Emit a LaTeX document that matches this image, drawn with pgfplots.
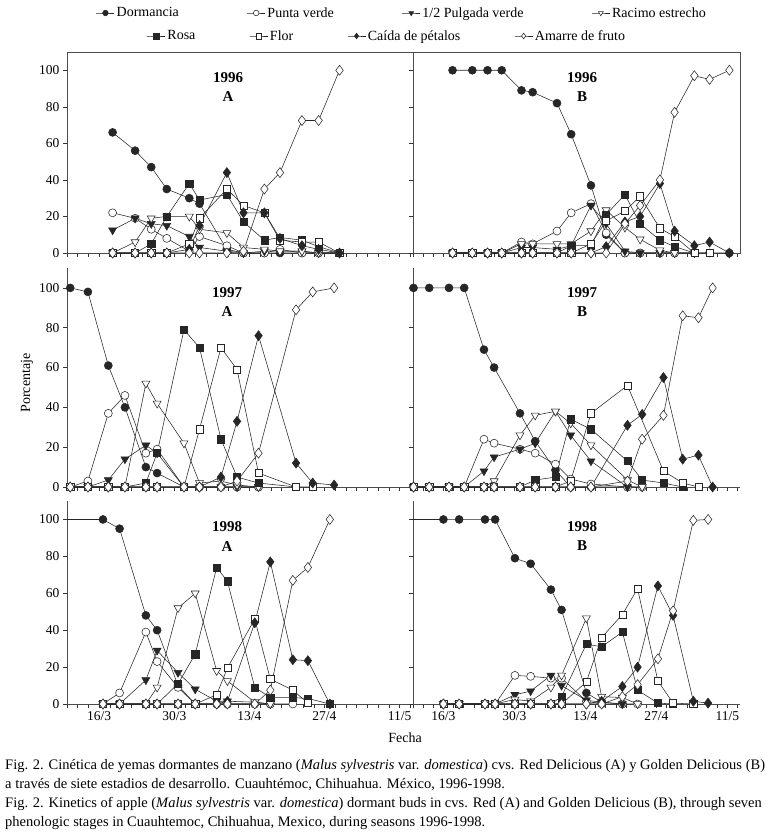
\documentclass[border=0pt]{standalone}
\usepackage{fontspec}
\setmainfont{Liberation Serif}
\usepackage{pgfplots}
\pgfplotsset{compat=1.18}

\pgfplotsset{
  pl/.style={black!85, line width=0.55pt, mark size=4pt},
  dorm/.style={pl, mark=*, mark options={solid, fill=black!85}},
  punta/.style={pl, mark=*, mark options={solid, fill=white}},
  pulg/.style={pl, mark=triangle*, mark size=4.6pt, mark options={solid, rotate=180, fill=black!85}},
  racimo/.style={pl, mark=triangle*, mark size=4.6pt, mark options={solid, rotate=180, fill=white}},
  rosa/.style={pl, mark=square*, mark size=3.6pt, mark options={solid, fill=black!85}},
  flor/.style={pl, mark=square*, mark size=3.6pt, mark options={solid, fill=white}},
  caida/.style={pl, mark=diamond*, mark size=5pt, mark options={solid, fill=black!85}},
  amarre/.style={pl, mark=diamond*, mark size=5pt, mark options={solid, fill=white}},
  panel/.style={
    scale only axis, anchor=south west,
    xmin=9, xmax=73.5, ymin=0, ymax=110,
    xtick={15,29,43,57,71}, minor xtick={9,11,...,73},
    ytick={0,20,...,100}, xticklabels={},
    tick align=outside, major tick length=4pt, minor tick length=4pt,
    tick style={black!80, line width=0.5pt},
    axis line style={black!70, line width=0.6pt},
    tick label style={font=\fontsize{13.5}{15}\selectfont},
    /pgf/number format/assume math mode=true,
  },
  toprow/.style={panel, xtick pos=left, ytick pos=left},
  lowrow/.style={panel, axis x line*=bottom, axis y line*=left},
  leftcol/.style={width=346pt},
  rightcol/.style={width=327pt, yticklabels={}},
  lastrow/.style={xticklabels={16/3,30/3,13/4,27/4,11/5}},
  leg/.style={hide axis, scale only axis, width=10pt, height=10pt, anchor=center,
    xmin=0, xmax=1, ymin=0, ymax=1, legend columns=4,
    legend image code/.code={\draw[mark repeat=2,mark phase=2,##1,mark size=2.8pt] plot coordinates {(0pt,0pt) (9pt,0pt) (18pt,0pt)};},
    legend style={draw=none, fill=none, at={(0.5,0.5)}, anchor=center,
      font=\fontsize{14}{16}\selectfont}},
}

\begin{document}
\begin{tikzpicture}
\path[use as bounding box] (0,0) rectangle (770pt,-832pt);

% legend, row 1 and row 2
\begin{axis}[leg, at={(402pt,-13pt)},
    legend style={/tikz/every even column/.append style={column sep=66pt}}]
  \addlegendimage{dorm}\addlegendentry{Dormancia}
  \addlegendimage{punta}\addlegendentry{Punta verde}
  \addlegendimage{pulg}\addlegendentry{1/2 Pulgada verde}
  \addlegendimage{racimo}\addlegendentry{Racimo estrecho}
\end{axis}
\begin{axis}[leg, at={(387pt,-36pt)},
    legend style={/tikz/every even column/.append style={column sep=52pt}}]
  \addlegendimage{rosa}\addlegendentry{Rosa}
  \addlegendimage{flor}\addlegendentry{Flor}
  \addlegendimage{caida}\addlegendentry{Caída de pétalos}
  \addlegendimage{amarre}\addlegendentry{Amarre de fruto}
\end{axis}

% 1996 A
\begin{axis}[toprow, leftcol, at={(67pt,-253pt)}, height=201pt]
  \addplot[dorm] coordinates {(17.5,66)(21.7,56)(24.7,47)(27.6,35)(31.8,30)(33.7,27)(38.8,2)(41.9,0)(45.8,0)(48.7,0)(52.8,0)(55.9,0)(59.8,0)};
  \addplot[punta] coordinates {(17.5,22)(21.7,19)(24.7,13)(27.6,8)(31.8,1)(33.7,9)(38.8,4)(41.9,0)(45.8,0)(48.7,2)(52.8,0)(55.9,0)(59.8,0)};
  \addplot[pulg] coordinates {(17.5,12.5)(21.7,19)(24.7,16)(27.6,15)(31.8,9)(33.7,3)(38.8,1)(41.9,0)(45.8,1)(48.7,1)(52.8,1)(55.9,0)(59.8,0)};
  \addplot[racimo] coordinates {(17.5,0)(21.7,6)(24.7,19)(27.6,20)(31.8,20)(33.7,13)(38.8,11)(41.9,3)(45.8,2)(48.7,1)(52.8,1)(55.9,0)(59.8,0)};
  \addplot[rosa] coordinates {(17.5,0)(21.7,0)(24.7,5)(27.6,20)(31.8,38)(33.7,29)(38.8,32)(41.9,17)(45.8,7)(48.7,8.5)(52.8,7)(55.9,3.5)(59.8,0)};
  \addplot[flor] coordinates {(17.5,0)(21.7,0)(24.7,0)(27.6,0)(31.8,5)(33.7,19)(38.8,35)(41.9,26)(45.8,22)(48.7,7)(52.8,6)(55.9,6)(59.8,0)};
  \addplot[caida] coordinates {(17.5,0)(21.7,0)(24.7,0)(27.6,0)(31.8,2)(33.7,15)(38.8,44)(41.9,22)(45.8,22)(48.7,8)(52.8,4)(55.9,2)(59.8,0)};
  \addplot[amarre] coordinates {(17.5,0)(21.7,0)(24.7,0)(27.6,0)(31.8,0)(33.7,0)(38.8,0)(41.9,1)(45.8,35)(48.7,44)(52.8,72.5)(55.9,72.5)(59.8,100)};
\end{axis}

% 1996 B
\begin{axis}[toprow, rightcol, at={(413pt,-253pt)}, height=201pt]
  \addplot[dorm] coordinates {(16.8,100)(20.7,100)(23.7,100)(26.5,100)(30.4,89)(32.6,88)(37.4,82)(40.2,65)(44.1,37)(47.1,10)(50.8,0)(53.8,0)(57.7,0)(60.6,0)(64.5,0)(67.5,0)(71.4,0)};
  \addplot[punta] coordinates {(16.8,0)(20.7,0)(23.7,0)(26.5,0)(30.4,6)(32.6,5)(37.4,12)(40.2,22)(44.1,27)(47.1,11)(50.8,0)(53.8,0)(57.7,0)(60.6,0)(64.5,0)};
  \addplot[pulg] coordinates {(16.8,0)(20.7,0)(23.7,0)(26.5,0)(30.4,3)(32.6,3)(37.4,2)(40.2,4)(44.1,26)(47.1,16)(50.8,1)(53.8,0)(57.7,0)(60.6,0)};
  \addplot[racimo] coordinates {(16.8,0)(20.7,0)(23.7,0)(26.5,0)(30.4,5)(32.6,5)(37.4,5)(40.2,5)(44.1,12)(47.1,23.5)(50.8,14)(53.8,7.5)(57.7,1.5)(60.6,0)(64.5,0)};
  \addplot[rosa] coordinates {(16.8,0)(20.7,0)(23.7,0)(26.5,0)(30.4,0)(32.6,0)(37.4,0)(40.2,4)(44.1,4)(47.1,21)(50.8,32)(53.8,16)(57.7,7)(60.6,3.5)(64.5,0)};
  \addplot[flor] coordinates {(16.8,0)(20.7,0)(23.7,0)(26.5,0)(30.4,0)(32.6,0)(37.4,0)(40.2,0)(44.1,5)(47.1,17.5)(50.8,23)(53.8,31)(57.7,13.5)(60.6,9)(64.5,0)(67.5,0)};
  \addplot[caida] coordinates {(16.8,0)(20.7,0)(23.7,0)(26.5,0)(30.4,0)(32.6,0)(37.4,0)(40.2,0)(44.1,0)(47.1,3.5)(50.8,17)(53.8,20)(57.7,38)(60.6,12)(64.5,4)(67.5,6)(71.4,0)};
  \addplot[amarre] coordinates {(16.8,0)(20.7,0)(23.7,0)(26.5,0)(30.4,0)(32.6,0)(37.4,0)(40.2,0)(44.1,0)(47.1,0)(50.8,16)(53.8,26)(57.7,40)(60.6,77)(64.5,97)(67.5,95)(71.4,100)};
\end{axis}

% 1997 A
\begin{axis}[lowrow, leftcol, at={(67pt,-487pt)}, height=219pt]
  \addplot[dorm] coordinates {(9.6,100)(12.9,98)(16.7,61)(19.8,40)(23.7,10)(25.8,7)(30.8,0)(33.7,0)(37.7,0)(40.7,0)(44.7,0)};
  \addplot[punta] coordinates {(9.6,0)(12.9,3)(16.7,37)(19.8,46)(23.7,17)(25.8,19)(30.8,0)(33.7,0)(37.7,0)(40.7,0)(44.7,0)};
  \addplot[pulg] coordinates {(9.6,0)(12.9,0)(16.7,3.5)(19.8,14)(23.7,21)(25.8,17)(30.8,0)(33.7,0)(37.7,0)(40.7,0)(44.7,0)};
  \addplot[racimo] coordinates {(9.6,0)(12.9,0)(16.7,0)(19.8,0)(23.7,52)(25.8,42)(30.8,22)(33.7,2)(37.7,3)(40.7,1)(44.7,0)};
  \addplot[rosa] coordinates {(9.6,0)(12.9,0)(16.7,0)(19.8,0)(23.7,2)(25.8,17)(30.8,79)(33.7,70)(37.7,24)(40.7,5)(44.7,2)(51.7,0)};
  \addplot[flor] coordinates {(9.6,0)(12.9,0)(16.7,0)(19.8,0)(23.7,0)(25.8,0)(30.8,0)(33.7,29)(37.7,70)(40.7,59)(44.7,7)(51.7,0)(54.8,0)};
  \addplot[caida] coordinates {(9.6,0)(12.9,0)(16.7,0)(19.8,0)(23.7,0)(25.8,0)(30.8,0)(33.7,0)(37.7,5)(40.7,33)(44.7,76)(51.7,12)(54.8,2)(58.8,1)};
  \addplot[amarre] coordinates {(9.6,0)(12.9,0)(16.7,0)(19.8,0)(23.7,0)(25.8,0)(30.8,0)(33.7,0)(37.7,0)(40.7,3)(44.7,17)(51.7,89)(54.8,98)(58.8,100)};
\end{axis}

% 1997 B
\begin{axis}[lowrow, rightcol, at={(413pt,-487pt)}, height=219pt]
  \addplot[dorm] coordinates {(9.1,100)(12.2,100)(16.1,100)(19.1,100)(23.0,69)(25.0,60)(30.1,37)(33.1,23)(37.1,8.5)(40.1,0)(44.1,0)(51.3,0)};
  \addplot[punta] coordinates {(9.1,0)(12.2,0)(16.1,0)(19.1,0)(23.0,24)(25.0,22)(30.1,19)(33.1,17)(37.1,11.5)(40.1,4)(44.1,1.5)(51.3,0)(54.2,0)};
  \addplot[pulg] coordinates {(9.1,0)(12.2,0)(16.1,0)(19.1,0)(23.0,8)(25.0,15)(30.1,19)(33.1,22)(37.1,38)(40.1,26)(44.1,13)(51.3,0)(54.2,0)};
  \addplot[racimo] coordinates {(9.1,0)(12.2,0)(16.1,0)(19.1,0)(23.0,0)(25.0,3)(30.1,26)(33.1,36)(37.1,38)(40.1,32)(44.1,21)(51.3,3.5)(54.2,0)};
  \addplot[rosa] coordinates {(9.1,0)(12.2,0)(16.1,0)(19.1,0)(23.0,0)(25.0,0)(30.1,0)(33.1,3.5)(37.1,5)(40.1,34)(44.1,29)(51.3,13)(54.2,3.5)(58.4,2)(62.2,0)};
  \addplot[flor] coordinates {(9.1,0)(12.2,0)(16.1,0)(19.1,0)(23.0,0)(25.0,0)(30.1,0)(33.1,0)(37.1,0)(40.1,3)(44.1,37)(51.3,51)(58.4,8)(62.2,2)(65.3,0)};
  \addplot[caida] coordinates {(9.1,0)(12.2,0)(16.1,0)(19.1,0)(23.0,0)(25.0,0)(30.1,0)(33.1,0)(37.1,0)(40.1,0)(44.1,0)(51.3,31)(54.2,36.5)(58.4,55)(62.2,14)(65.3,16)(68.1,0)};
  \addplot[amarre] coordinates {(9.1,0)(12.2,0)(16.1,0)(19.1,0)(23.0,0)(25.0,0)(30.1,0)(33.1,0)(37.1,0)(40.1,0)(44.1,0)(51.3,3)(54.2,24)(58.4,36)(62.2,86)(65.3,85)(68.1,100)};
\end{axis}

% 1998 A
\begin{axis}[lowrow, leftcol, lastrow, at={(67pt,-704pt)}, height=203pt]
  \addplot[pl, no marks, forget plot] coordinates {(5,100)(15.7,100)};
  \addplot[dorm] coordinates {(15.7,100)(18.8,95)(23.7,48)(25.8,40)(29.7,10)(32.9,0)(36.9,0)(38.9,0)(44.0,0)(46.9,0)};
  \addplot[punta] coordinates {(15.7,0)(18.8,6)(23.7,39)(25.8,23)(29.7,9)(32.9,0)(36.9,0)(38.9,0)(44.0,0)(46.9,0)(51.1,0)};
  \addplot[pulg] coordinates {(15.7,0)(18.8,0)(23.7,13)(25.8,29)(29.7,17)(32.9,8)(36.9,1.5)(38.9,1.5)(44.0,1)(46.9,0)};
  \addplot[racimo] coordinates {(15.7,0)(18.8,0)(23.7,0)(25.8,9)(29.7,52)(32.9,60)(36.9,18)(38.9,12.5)(44.0,1)(46.9,0)};
  \addplot[rosa] coordinates {(15.7,0)(18.8,0)(23.7,0)(25.8,0)(29.7,11)(32.9,27)(36.9,74)(38.9,66.5)(44.0,9)(46.9,3.5)(51.1,3.5)(53.9,3)(58.0,0)};
  \addplot[flor] coordinates {(15.7,0)(18.8,0)(23.7,0)(25.8,0)(29.7,0)(32.9,0)(36.9,5)(38.9,19.5)(44.0,46)(46.9,13.5)(51.1,7.5)(53.9,0.5)};
  \addplot[caida] coordinates {(15.7,0)(18.8,0)(23.7,0)(25.8,0)(29.7,0)(32.9,0)(36.9,0)(38.9,1.5)(44.0,44)(46.9,77)(51.1,24)(53.9,23.5)(58.0,0)};
  \addplot[amarre] coordinates {(15.7,0)(18.8,0)(23.7,0)(25.8,0)(29.7,0)(32.9,0)(36.9,0)(38.9,0)(44.0,0)(46.9,7.5)(51.1,67)(53.9,74)(58.0,100)};
\end{axis}

% 1998 B
\begin{axis}[lowrow, rightcol, lastrow, at={(413pt,-704pt)}, height=203pt]
  \addplot[pl, no marks, forget plot] coordinates {(5,100)(15.0,100)};
  \addplot[dorm] coordinates {(15.0,100)(18.1,100)(23.2,100)(25.2,100)(29.1,79)(32.2,76)(36.2,62)(38.3,51)(43.2,6)(46.2,1)(50.3,0)};
  \addplot[punta] coordinates {(15.0,0)(18.1,0)(23.2,0)(25.2,0)(29.1,15.5)(32.2,15)(36.2,14)(38.3,14)(43.2,1.5)(46.2,0)(50.3,0)(53.3,0)};
  \addplot[pulg] coordinates {(15.0,0)(18.1,0)(23.2,0)(25.2,0)(29.1,5)(32.2,7)(36.2,15.5)(38.3,10)(43.2,2)(46.2,1)(50.3,0)};
  \addplot[racimo] coordinates {(15.0,0)(18.1,0)(23.2,0)(25.2,0)(29.1,2.5)(32.2,1.5)(36.2,9)(38.3,15.5)(43.2,46.5)(46.2,4)(50.3,3.5)(53.3,0)};
  \addplot[rosa] coordinates {(15.0,0)(18.1,0)(23.2,0)(25.2,0)(29.1,0)(32.2,0)(36.2,0)(38.3,4)(43.2,32.5)(46.2,31)(50.3,39)(53.3,7.5)(57.3,0.5)(60.3,0)};
  \addplot[flor] coordinates {(15.0,0)(18.1,0)(23.2,0)(25.2,0)(29.1,0)(32.2,0)(36.2,0)(38.3,0)(43.2,12)(46.2,36)(50.3,48.5)(53.3,62.5)(57.3,12.5)(60.3,0.5)(64.3,0)};
  \addplot[caida] coordinates {(15.0,0)(18.1,0)(23.2,0)(25.2,0)(29.1,0)(32.2,0)(36.2,0)(38.3,0)(43.2,0)(46.2,1.5)(50.3,9.5)(53.3,20)(57.3,64)(60.3,48)(64.3,1.5)(67.2,0.5)};
  \addplot[amarre] coordinates {(15.0,0)(18.1,0)(23.2,0)(25.2,0)(29.1,0)(32.2,0)(36.2,0)(38.3,0)(43.2,0)(46.2,0)(50.3,4)(53.3,10.5)(57.3,24.5)(60.3,50.5)(64.3,99.5)(67.2,100)};
\end{axis}

% panel labels
\begin{scope}[every node/.style={font=\bfseries\fontsize{15}{17}\selectfont}]
  \node at (228pt,-78pt) {1996}; \node at (228pt,-97pt) {A};
  \node at (582pt,-78pt) {1996}; \node at (582pt,-97pt) {B};
  \node at (227pt,-293pt) {1997}; \node at (227pt,-312pt) {A};
  \node at (582pt,-293pt) {1997}; \node at (582pt,-312pt) {B};
  \node at (227pt,-527pt) {1998}; \node at (227pt,-547pt) {A};
  \node at (582pt,-527pt) {1998}; \node at (582pt,-546pt) {B};
\end{scope}

% axis titles
\node[rotate=90, font=\fontsize{14}{16}\selectfont] at (27pt,-383pt) {Porcentaje};
\node[font=\fontsize{14}{16}\selectfont] at (405pt,-738pt) {Fecha};

% caption
\begin{scope}[every node/.style={anchor=base west, inner sep=0pt, font=\fontsize{14.5}{16}\selectfont}]
  \node at (5pt,-769pt) {Fig. 2. Cinética de yemas dormantes de manzano (\textit{Malus sylvestris} var. \textit{domestica}) cvs. Red Delicious (A) y Golden Delicious (B)};
  \node at (5pt,-788pt) {a través de siete estadios de desarrollo. Cuauhtémoc, Chihuahua. México, 1996-1998.};
  \node at (5pt,-807pt) {Fig. 2. Kinetics of apple (\textit{Malus sylvestris} var. \textit{domestica}) dormant buds in cvs. Red (A) and Golden Delicious (B), through seven};
  \node at (5pt,-826pt) {phenologic stages in Cuauhtemoc, Chihuahua, Mexico, during seasons 1996-1998.};
\end{scope}
\end{tikzpicture}
\end{document}
